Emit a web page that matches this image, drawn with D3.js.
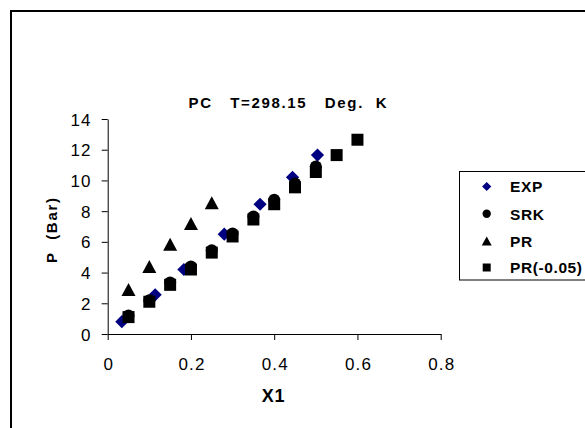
<!DOCTYPE html>
<html><head><meta charset="utf-8">
<script src="https://cdn.jsdelivr.net/npm/d3@7"></script>
<style>html,body{margin:0;padding:0;background:#fff;overflow:hidden}</style>
</head><body>
<script>
const xTicks = [0, 0.2, 0.4, 0.6, 0.8];
const yTicks = [0, 2, 4, 6, 8, 10, 12, 14];
const seriesNames = ["EXP", "SRK", "PR", "PR(-0.05)"];
const expX = [0.034, 0.114, 0.183, 0.28, 0.366, 0.444, 0.504];
const expP = [0.8, 2.55, 4.2, 6.5, 8.45, 10.2, 11.65];
const srkX = [0.05, 0.1, 0.15, 0.2, 0.25, 0.3, 0.35, 0.4, 0.45, 0.5];
const srkP = [1.2, 2.2, 3.35, 4.4, 5.45, 6.55, 7.65, 8.75, 9.8, 10.9];
const prX = [0.05, 0.1, 0.15, 0.2, 0.25];
const prP = [2.9, 4.4, 5.85, 7.2, 8.55];
const pr05X = [0.05, 0.1, 0.15, 0.2, 0.25, 0.3, 0.35, 0.4, 0.45, 0.5, 0.55, 0.6];
const pr05P = [1.1, 2.1, 3.2, 4.2, 5.3, 6.35, 7.45, 8.45, 9.55, 10.55, 11.65, 12.65];
const titleText = "PC   T=298.15   Deg.  K";
const xLabel = "X1";
const yLabel = "P  (Bar)";

const W = 585, H = 428;
const FONT = "Arial, 'Liberation Sans', sans-serif";
const svg = d3.select("body").append("svg").attr("width", W).attr("height", H)
  .style("font-family", FONT);

// outer frame
svg.append("rect").attr("x", 11).attr("y", 11).attr("width", 620).attr("height", 440)
  .attr("fill", "#fff").attr("stroke", "#000").attr("stroke-width", 2);

const x = d3.scaleLinear().domain([0, 0.8]).range([107.7, 440.7]);
const y = d3.scaleLinear().domain([0, 14]).range([334, 119]);

// axes
const gx = svg.append("g").attr("transform", `translate(0,${y(0)})`)
  .call(d3.axisBottom(x).tickValues(xTicks).tickSize(6).tickSizeOuter(0).tickFormat(d3.format("")));
const gy = svg.append("g").attr("transform", `translate(${x(0)},0)`)
  .call(d3.axisLeft(y).tickValues(yTicks).tickSize(6).tickSizeOuter(0).tickFormat(d3.format("")));
[gx, gy].forEach(g => {
  g.select(".domain").attr("stroke", "#000").attr("stroke-width", 1);
  g.selectAll(".tick line").attr("stroke", "#000").attr("stroke-width", 1);
  g.selectAll(".tick text").attr("fill", "#000").style("font-family", FONT)
    .style("font-size", "17px").style("letter-spacing", "1.2px");
});
gx.selectAll(".tick text").attr("y", 36).attr("dy", 0).attr("dx", 0.6);
gy.selectAll(".tick text").attr("x", -16).attr("dy", "0.36em");

// title
svg.append("text").attr("x", 188.5).attr("y", 108)
  .attr("textLength", 198).attr("lengthAdjust", "spacing")
  .style("white-space", "pre").style("font-weight", "bold").style("font-size", "15px")
  .text(titleText);

// axis titles
svg.append("text").attr("x", 261.7).attr("y", 401.7)
  .attr("textLength", 22.7).attr("lengthAdjust", "spacing")
  .style("font-weight", "bold").style("font-size", "18px").text(xLabel);
svg.append("text").attr("transform", "translate(57,263) rotate(-90)")
  .attr("textLength", 65).attr("lengthAdjust", "spacing")
  .style("white-space", "pre").style("font-weight", "bold").style("font-size", "15px").text(yLabel);

// marker shapes
function diamond(cx, cy, r) { return `M${cx},${cy - r}L${cx + r},${cy}L${cx},${cy + r}L${cx - r},${cy}Z`; }
function triangle(cx, cy, w, h) { return `M${cx},${cy - h / 2}L${cx + w / 2},${cy + h / 2}L${cx - w / 2},${cy + h / 2}Z`; }
function square(cx, cy, s) { return `M${cx - s / 2},${cy - s / 2}h${s}v${s}h${-s}Z`; }

const plot = svg.append("g");
plot.selectAll("path.exp").data(expX.map((v, i) => [v, expP[i]])).enter().append("path")
  .attr("d", d => diamond(x(d[0]), y(d[1]), 6.6)).attr("fill", "#000080");
plot.selectAll("circle.srk").data(srkX.map((v, i) => [v, srkP[i]])).enter().append("circle")
  .attr("cx", d => x(d[0])).attr("cy", d => y(d[1])).attr("r", 6).attr("fill", "#000");
plot.selectAll("path.pr").data(prX.map((v, i) => [v, prP[i]])).enter().append("path")
  .attr("d", d => triangle(x(d[0]), y(d[1]), 14, 13)).attr("fill", "#000");
plot.selectAll("path.pr05").data(pr05X.map((v, i) => [v, pr05P[i]])).enter().append("path")
  .attr("d", d => square(x(d[0]), y(d[1]), 12)).attr("fill", "#000");

// legend
const lg = svg.append("g");
lg.append("rect").attr("x", 459.5).attr("y", 171.5).attr("width", 140).attr("height", 108.5)
  .attr("fill", "#fff").attr("stroke", "#000").attr("stroke-width", 1);
const rows = [186.5, 213.8, 241, 267.5];
const mx = 486.7;
lg.append("path").attr("d", diamond(mx, rows[0], 4.6)).attr("fill", "#000080");
lg.append("circle").attr("cx", mx).attr("cy", rows[1]).attr("r", 4.2).attr("fill", "#000");
lg.append("path").attr("d", triangle(mx, rows[2], 10, 9)).attr("fill", "#000");
lg.append("path").attr("d", square(mx, rows[3], 8)).attr("fill", "#000");
seriesNames.forEach((n, i) => {
  lg.append("text").attr("x", 510).attr("y", rows[i] + 5.8)
    .style("font-weight", "bold").style("font-size", "15.5px").style("letter-spacing", "0.6px").text(n);
});
</script>
</body></html>
